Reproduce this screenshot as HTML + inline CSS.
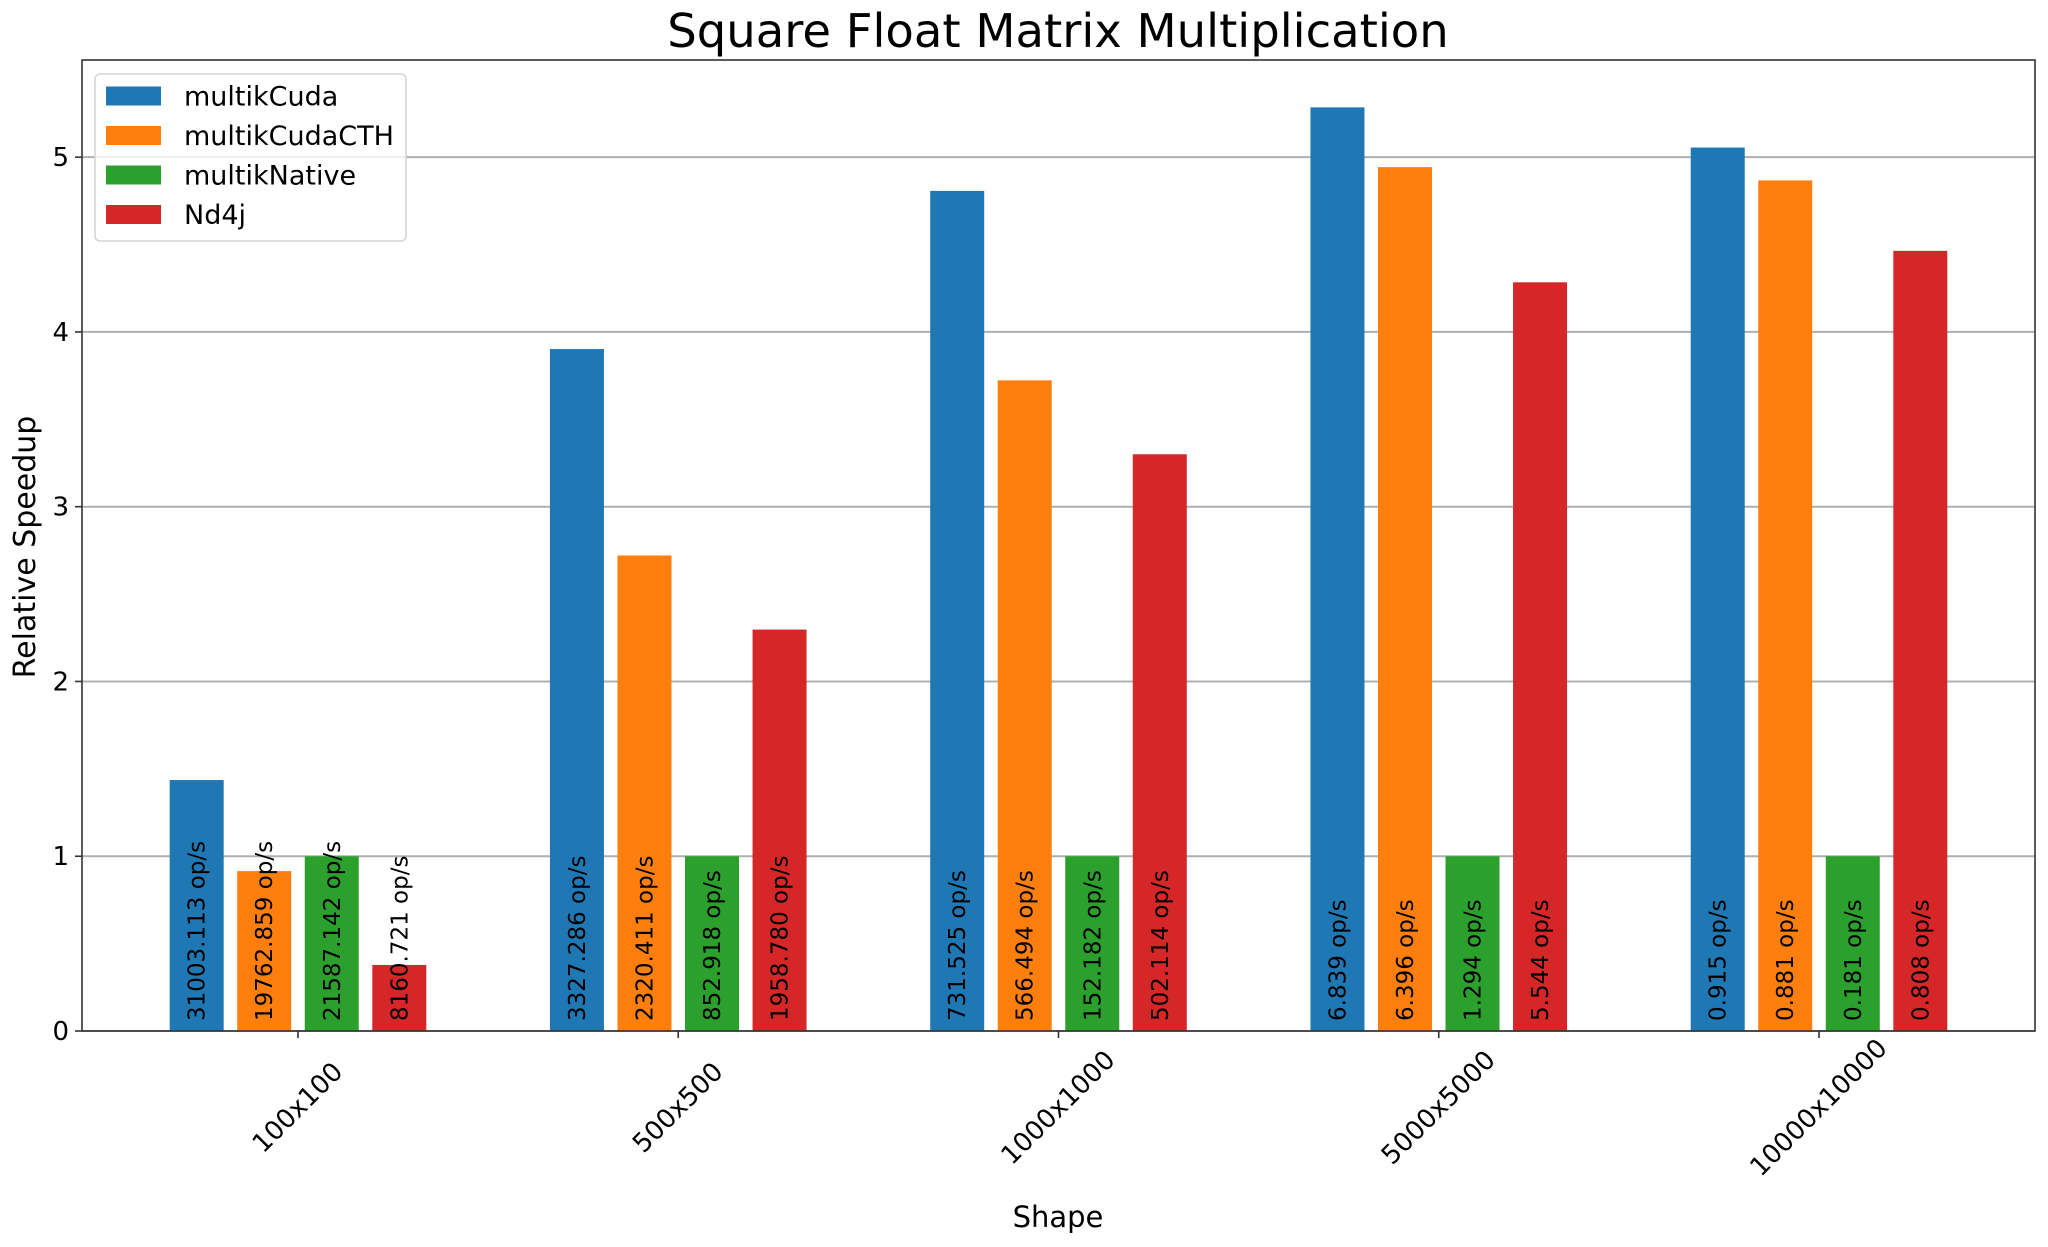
<!DOCTYPE html>
<html><head><meta charset="utf-8"><style>
html,body{margin:0;padding:0;background:#fff}
svg{display:block;font-family:"DejaVu Sans","Liberation Sans",sans-serif}
</style></head><body>
<svg id="chart" width="2048" height="1247" viewBox="0 0 2048 1247" xmlns="http://www.w3.org/2000/svg">
<rect width="2048" height="1247" fill="#fff"/>
<text x="1058" y="47" font-size="46.5" text-anchor="middle" fill="#000">Square Float Matrix Multiplication</text>
<text transform="translate(35,547) rotate(-90)" font-size="30" text-anchor="middle" fill="#000">Relative Speedup</text>
<text x="1058" y="1227" font-size="29" text-anchor="middle" fill="#000">Shape</text>
<g id="grid"></g>
<g id="bars"></g>
<g id="labels"></g>
<g id="axes"></g>
<g id="legend"></g>
</svg>
<script>
const categories = ["100x100","500x500","1000x1000","5000x5000","10000x10000"];
const seriesNames = ["multikCuda","multikCudaCTH","multikNative","Nd4j"];
const multikCuda = [1.436, 3.902, 4.807, 5.285, 5.055];
const multikCudaCTH = [0.915, 2.721, 3.723, 4.943, 4.867];
const multikNative = [1.0, 1.0, 1.0, 1.0, 1.0];
const nd4j = [0.378, 2.297, 3.300, 4.284, 4.464];
const labelsCuda = ["31003.113 op/s","3327.286 op/s","731.525 op/s","6.839 op/s","0.915 op/s"];
const labelsCTH = ["19762.859 op/s","2320.411 op/s","566.494 op/s","6.396 op/s","0.881 op/s"];
const labelsNative = ["21587.142 op/s","852.918 op/s","152.182 op/s","1.294 op/s","0.181 op/s"];
const labelsNd4j = ["8160.721 op/s","1958.780 op/s","502.114 op/s","5.544 op/s","0.808 op/s"];
const yTicks = [0,1,2,3,4,5];

const colors = ["#1f77b4","#ff7f0e","#2ca02c","#d62728"];
const series = [multikCuda, multikCudaCTH, multikNative, nd4j];
const labels = [labelsCuda, labelsCTH, labelsNative, labelsNd4j];
const NS = "http://www.w3.org/2000/svg";
const L=82, R=2035, T=60, B=1031;
const xmin=-0.568, xmax=4.568, ymin=0, ymax=5.556;
const xs = v => L + (v - xmin) / (xmax - xmin) * (R - L);
const ys = v => B - (v - ymin) / (ymax - ymin) * (B - T);
const pitch = 0.1776, bw = 0.142;
function mk(tag, attrs, parent){const e=document.createElementNS(NS,tag);for(const k in attrs)e.setAttribute(k,attrs[k]);parent.appendChild(e);return e;}
const grid=document.getElementById('grid'), bars=document.getElementById('bars'), lab=document.getElementById('labels'), axes=document.getElementById('axes'), leg=document.getElementById('legend');

yTicks.forEach(t=>{
  const y=ys(t);
  const g=mk('line',{x1:L,x2:R,y1:y,y2:y,stroke:'#b0b0b0','stroke-width':2},grid);
  
  
  const tk=mk('line',{x1:L-7,x2:L,y1:y,y2:y,stroke:'#333','stroke-width':1.6},axes);
  
  
  const tl=mk('text',{x:L-13,y:y+9,'font-size':26,'text-anchor':'end',fill:'#000'},axes);
  tl.textContent=t;
  
  
});

categories.forEach((c,i)=>{
  series.forEach((s,j)=>{
    const cx = i + (j-1.5)*pitch;
    const x0 = xs(cx - bw/2), x1 = xs(cx + bw/2);
    const r=mk('rect',{x:x0,y:ys(s[i]),width:x1-x0,height:ys(0)-ys(s[i]),fill:colors[j]},bars);
    
    
    const tx=xs(cx)+8, ty=B-10;
    const t=mk('text',{x:0,y:0,transform:`translate(${tx},${ty}) rotate(-90)`,'font-size':23,fill:'#000'},lab);
    t.textContent=labels[j][i];
    
    
  });
  const x=xs(i);
  const tk=mk('line',{x1:x,x2:x,y1:B,y2:B+7,stroke:'#333','stroke-width':1.6},axes);
  
  
  const tl=mk('text',{x:0,y:0,transform:`translate(${x},${1108}) rotate(-45)`,'font-size':26,'text-anchor':'middle','dominant-baseline':'central',fill:'#000'},axes);
  tl.textContent=c;
  
  
});

const frame=mk('rect',{x:L,y:T,width:R-L,height:B-T,fill:'none',stroke:'#333','stroke-width':1.6},axes);



const lb=mk('rect',{x:95,y:74,width:311,height:167,rx:5,fill:'#fff','fill-opacity':0.8,stroke:'#d6d6d6','stroke-width':1.6},leg);


seriesNames.forEach((n,j)=>{
  const cy=96+j*39.5;
  const p=mk('rect',{x:106,y:cy-9.5,width:55,height:19,fill:colors[j]},leg);
  
  
  const t=mk('text',{x:184,y:cy+9.5,'font-size':27,fill:'#000'},leg);
  t.textContent=n;
  
  
});
</script>
</body></html>
